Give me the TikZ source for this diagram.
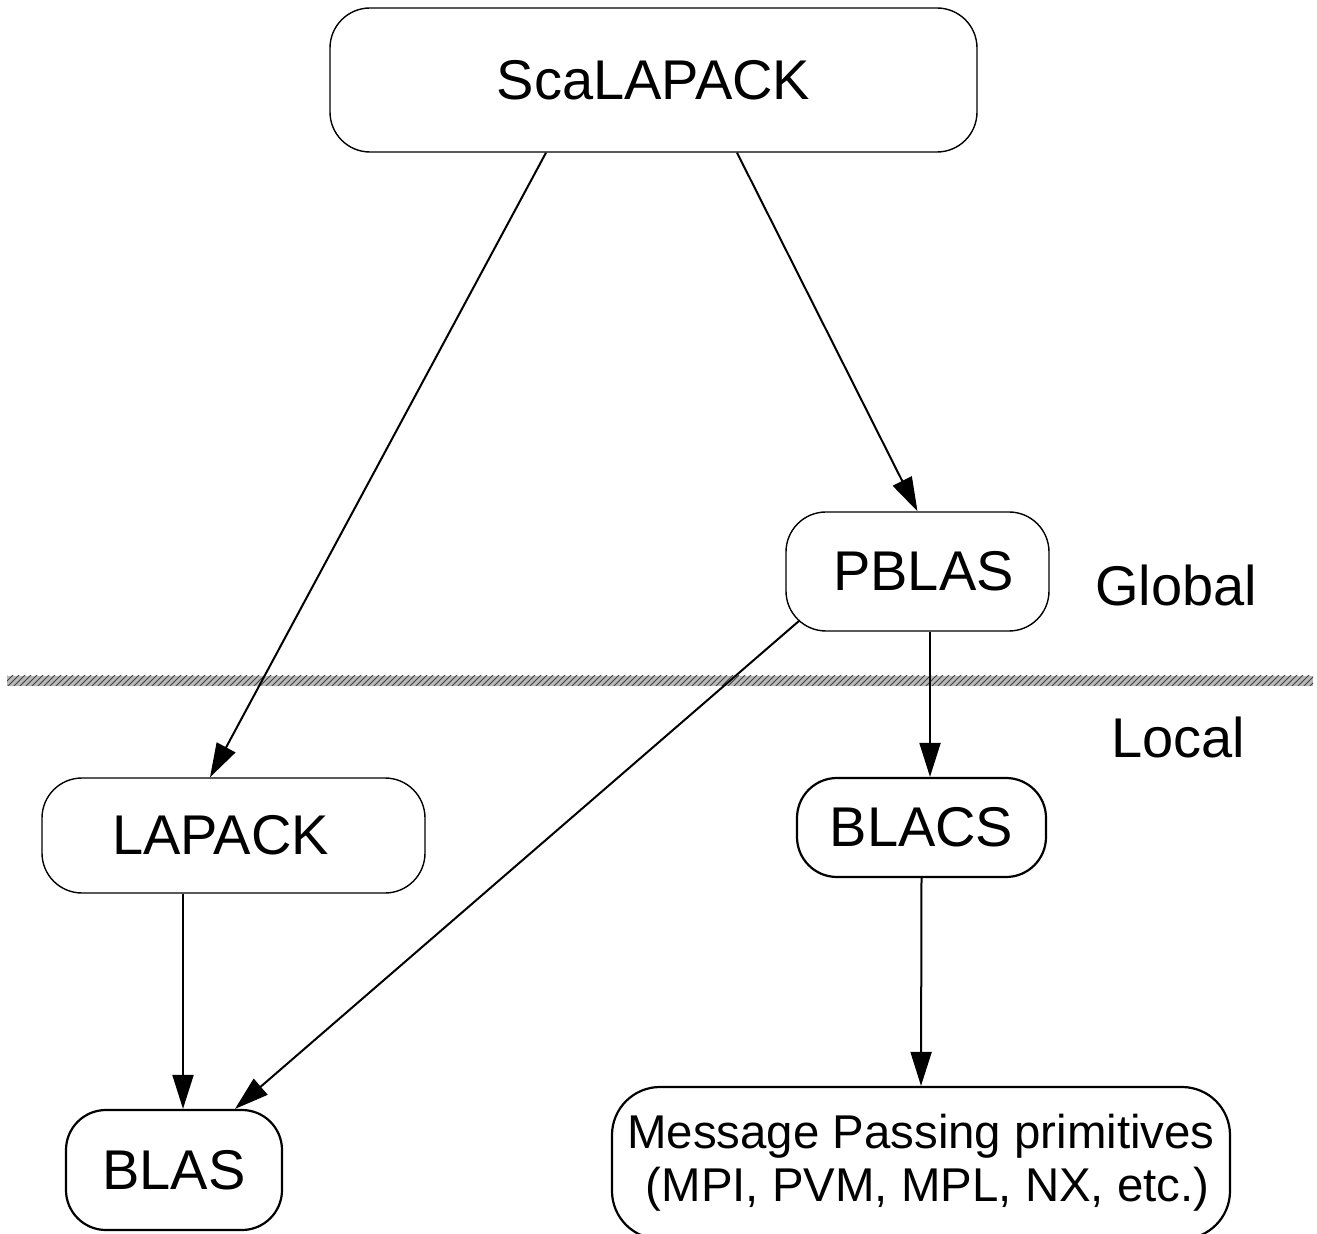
\documentclass[tikz,border=0pt]{standalone}
\usepackage{fontspec}
\setmainfont{Liberation Sans}
\usetikzlibrary{arrows.meta,patterns}

\begin{document}
\begin{tikzpicture}[x=0.5pt,y=-0.5pt]

      \useasboundingbox (0,0) rectangle (1317,1234);

      % boxes
      \begin{scope}[every node/.style={draw, rounded corners=20pt, inner sep=0pt,
          align=center, font=\fontsize{28pt}{33pt}\selectfont}]
        \node[line width=0.7pt, minimum width=323.5pt, minimum height=72pt] (scal)   at (653.5,80)   {ScaLAPACK};
        \node[line width=0.7pt, minimum width=131.5pt, minimum height=59.5pt] (pblas) at (917.5,571.5) {\hspace*{6pt}PBLAS};
        \node[line width=0.7pt, minimum width=191.5pt, minimum height=57.5pt] (lapack) at (233.5,835.5) {\hspace*{-13pt}LAPACK};
        \node[line width=1.1pt, minimum width=124.5pt, minimum height=49.5pt] (blacs) at (921.5,827.5) {BLACS};
        \node[line width=1.1pt, minimum width=108pt, minimum height=60pt] (blas)   at (174,1170)   {BLAS};
        \node[line width=1.1pt, minimum width=309pt, minimum height=76pt, rounded corners=24pt,
          font=\fontsize{23.7pt}{26.5pt}\selectfont] (msg) at (921,1163)
          {Message Passing primitives\\ \ (MPI, PVM, MPL, NX, etc.)};
      \end{scope}

      % level labels
      \begin{scope}[every node/.style={font=\fontsize{28pt}{33pt}\selectfont}]
        \node (global) at (1176,585) {Global};
        \node (local)  at (1178,737) {Local};
      \end{scope}

      % separator
      \path[fill=gray!55, postaction={pattern=north east lines, pattern color=black!75}]
        (7,676) rectangle (1313,686);

      \begin{scope}[every edge/.style={draw, line width=1pt, -{Triangle[length=17pt, width=10.5pt]}}]
        \path ([xshift=-53.75pt]scal.south) edge ([xshift=-11.75pt]lapack.north);
        \path ([xshift=41.75pt]scal.south)  edge (pblas.north);
        \path ([shift={(7pt,5.5pt)}]pblas.south west) edge ([xshift=30.5pt]blas.north);
        \path ([xshift=6.25pt]pblas.south)  edge ([xshift=4.25pt]blacs.north);
        \path ([xshift=-25.25pt]lapack.south) edge ([xshift=4.5pt]blas.north);
        \path (blacs.south) edge (msg.north);
      \end{scope}

    \end{tikzpicture}
\end{document}
